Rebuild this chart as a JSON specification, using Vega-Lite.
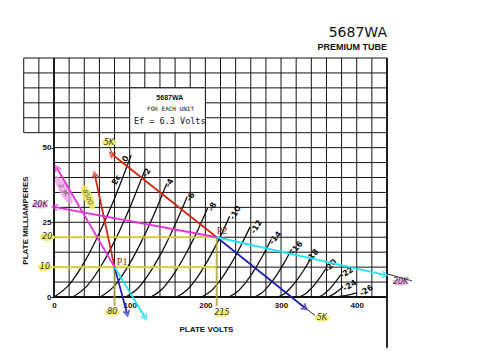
{
  "$schema": "https://vega.github.io/schema/vega-lite/v6.json",
  "width": 333,
  "height": 239,
  "autosize": {"type": "none"},
  "padding": {"left": 54, "top": 58, "right": 113, "bottom": 57},
  "background": "white",
  "config": {"view": {"stroke": null}, "font": "Liberation Sans"},
  "title": {
    "text": "5687WA",
    "subtitle": "PREMIUM TUBE",
    "anchor": "end",
    "frame": "group",
    "font": "DejaVu Sans",
    "fontSize": 14,
    "fontWeight": "normal",
    "color": "#111",
    "subtitleFont": "Liberation Sans Narrow, Liberation Sans",
    "subtitleFontSize": 9,
    "subtitleFontWeight": "bold",
    "subtitleColor": "#111",
    "subtitlePadding": 3,
    "offset": 5
  },
  "datasets": {
    "grid": [
      {"v": -40, "v2": -40, "i": 55, "i2": 80},
      {"v": -20, "v2": -20, "i": 55, "i2": 80},
      {"v": 0, "v2": 0, "i": 0, "i2": 80},
      {"v": 20, "v2": 20, "i": 0, "i2": 80},
      {"v": 40, "v2": 40, "i": 0, "i2": 80},
      {"v": 60, "v2": 60, "i": 0, "i2": 80},
      {"v": 80, "v2": 80, "i": 0, "i2": 80},
      {"v": 100, "v2": 100, "i": 0, "i2": 80},
      {"v": 120, "v2": 120, "i": 0, "i2": 80},
      {"v": 140, "v2": 140, "i": 0, "i2": 80},
      {"v": 160, "v2": 160, "i": 0, "i2": 80},
      {"v": 180, "v2": 180, "i": 0, "i2": 80},
      {"v": 200, "v2": 200, "i": 0, "i2": 80},
      {"v": 220, "v2": 220, "i": 0, "i2": 80},
      {"v": 240, "v2": 240, "i": 0, "i2": 80},
      {"v": 260, "v2": 260, "i": 0, "i2": 80},
      {"v": 280, "v2": 280, "i": 0, "i2": 80},
      {"v": 300, "v2": 300, "i": 0, "i2": 80},
      {"v": 320, "v2": 320, "i": 0, "i2": 80},
      {"v": 340, "v2": 340, "i": 0, "i2": 80},
      {"v": 360, "v2": 360, "i": 0, "i2": 80},
      {"v": 380, "v2": 380, "i": 0, "i2": 80},
      {"v": 400, "v2": 400, "i": 0, "i2": 80},
      {"v": 420, "v2": 420, "i": 0, "i2": 80},
      {"v": 440, "v2": 440, "i": 0, "i2": 80},
      {"v": 0, "v2": 440, "i": 0, "i2": 0},
      {"v": 0, "v2": 440, "i": 5, "i2": 5},
      {"v": 0, "v2": 440, "i": 10, "i2": 10},
      {"v": 0, "v2": 440, "i": 15, "i2": 15},
      {"v": 0, "v2": 440, "i": 20, "i2": 20},
      {"v": 0, "v2": 440, "i": 25, "i2": 25},
      {"v": 0, "v2": 440, "i": 30, "i2": 30},
      {"v": 0, "v2": 440, "i": 35, "i2": 35},
      {"v": 0, "v2": 440, "i": 40, "i2": 40},
      {"v": 0, "v2": 440, "i": 45, "i2": 45},
      {"v": 0, "v2": 440, "i": 50, "i2": 50},
      {"v": -40, "v2": 440, "i": 55, "i2": 55},
      {"v": -40, "v2": 440, "i": 60, "i2": 60},
      {"v": -40, "v2": 440, "i": 65, "i2": 65},
      {"v": -40, "v2": 440, "i": 70, "i2": 70},
      {"v": -40, "v2": 440, "i": 75, "i2": 75},
      {"v": -40, "v2": 440, "i": 80, "i2": 80}
    ],
    "frame": [
      {"v": 0, "v2": 0, "i": 0, "i2": 80},
      {"v": 0, "v2": 440, "i": 0, "i2": 0},
      {"v": 440, "v2": 440, "i": -17, "i2": 80}
    ],
    "box": [{"v": 100, "v2": 200, "i": 55, "i2": 70}],
    "curves": [
      {"ec": "0", "v": 0, "i": 0}, {"ec": "0", "v": 20.4, "i": 4.25}, {"ec": "0", "v": 40.8, "i": 12}, {"ec": "0", "v": 61.2, "i": 22.1}, {"ec": "0", "v": 81.6, "i": 34}, {"ec": "0", "v": 102, "i": 47.5},
      {"ec": "-2", "v": 25, "i": 0}, {"ec": "-2", "v": 44, "i": 3.79}, {"ec": "-2", "v": 63, "i": 10.7}, {"ec": "-2", "v": 82, "i": 19.7}, {"ec": "-2", "v": 101, "i": 30.4}, {"ec": "-2", "v": 120, "i": 42.4},
      {"ec": "-4", "v": 61, "i": 0}, {"ec": "-4", "v": 78.6, "i": 3.4}, {"ec": "-4", "v": 96.2, "i": 9.61}, {"ec": "-4", "v": 113.8, "i": 17.7}, {"ec": "-4", "v": 131.4, "i": 27.2}, {"ec": "-4", "v": 149, "i": 38},
      {"ec": "-6", "v": 95, "i": 0}, {"ec": "-6", "v": 111.2, "i": 3}, {"ec": "-6", "v": 127.4, "i": 8.5}, {"ec": "-6", "v": 143.6, "i": 15.6}, {"ec": "-6", "v": 159.8, "i": 24.1}, {"ec": "-6", "v": 176, "i": 33.6},
      {"ec": "-8", "v": 128, "i": 0}, {"ec": "-8", "v": 143, "i": 2.66}, {"ec": "-8", "v": 158, "i": 7.54}, {"ec": "-8", "v": 173, "i": 13.9}, {"ec": "-8", "v": 188, "i": 21.3}, {"ec": "-8", "v": 203, "i": 29.8},
      {"ec": "-10", "v": 162, "i": 0}, {"ec": "-10", "v": 176, "i": 2.41}, {"ec": "-10", "v": 190, "i": 6.83}, {"ec": "-10", "v": 204, "i": 12.6}, {"ec": "-10", "v": 218, "i": 19.3}, {"ec": "-10", "v": 232, "i": 27},
      {"ec": "-12", "v": 195, "i": 0}, {"ec": "-12", "v": 207.8, "i": 2.09}, {"ec": "-12", "v": 220.6, "i": 5.92}, {"ec": "-12", "v": 233.4, "i": 10.9}, {"ec": "-12", "v": 246.2, "i": 16.8}, {"ec": "-12", "v": 259, "i": 23.4},
      {"ec": "-14", "v": 231, "i": 0}, {"ec": "-14", "v": 242.2, "i": 1.73}, {"ec": "-14", "v": 253.4, "i": 4.88}, {"ec": "-14", "v": 264.6, "i": 8.97}, {"ec": "-14", "v": 275.8, "i": 13.8}, {"ec": "-14", "v": 287, "i": 19.3},
      {"ec": "-16", "v": 265, "i": 0}, {"ec": "-16", "v": 274.8, "i": 1.43}, {"ec": "-16", "v": 284.6, "i": 4.05}, {"ec": "-16", "v": 294.4, "i": 7.44}, {"ec": "-16", "v": 304.2, "i": 11.5}, {"ec": "-16", "v": 314, "i": 16},
      {"ec": "-18", "v": 296, "i": 0}, {"ec": "-18", "v": 304.8, "i": 1.18}, {"ec": "-18", "v": 313.6, "i": 3.34}, {"ec": "-18", "v": 322.4, "i": 6.14}, {"ec": "-18", "v": 331.2, "i": 9.45}, {"ec": "-18", "v": 340, "i": 13.2},
      {"ec": "-20", "v": 324, "i": 0}, {"ec": "-20", "v": 331.4, "i": 0.91}, {"ec": "-20", "v": 338.8, "i": 2.58}, {"ec": "-20", "v": 346.2, "i": 4.74}, {"ec": "-20", "v": 353.6, "i": 7.3}, {"ec": "-20", "v": 361, "i": 10.2},
      {"ec": "-22", "v": 349, "i": 0}, {"ec": "-22", "v": 355, "i": 0.67}, {"ec": "-22", "v": 361, "i": 1.9}, {"ec": "-22", "v": 367, "i": 3.49}, {"ec": "-22", "v": 373, "i": 5.37}, {"ec": "-22", "v": 379, "i": 7.5},
      {"ec": "-24", "v": 360, "i": 0}, {"ec": "-24", "v": 364.4, "i": 0.31}, {"ec": "-24", "v": 368.8, "i": 0.89}, {"ec": "-24", "v": 373.2, "i": 1.63}, {"ec": "-24", "v": 377.6, "i": 2.51}, {"ec": "-24", "v": 382, "i": 3.5},
      {"ec": "-26", "v": 370, "i": 0}, {"ec": "-26", "v": 376, "i": 0.13}, {"ec": "-26", "v": 382, "i": 0.35}, {"ec": "-26", "v": 388, "i": 0.65}, {"ec": "-26", "v": 394, "i": 1}, {"ec": "-26", "v": 400, "i": 1.4}
    ],
    "labelsSteep": [
      {"label": "0", "v": 95, "i": 46.2},
      {"label": "Ec", "v": 83, "i": 39.1},
      {"label": "-2", "v": 123, "i": 41.5},
      {"label": "-4", "v": 153, "i": 38.1},
      {"label": "-6", "v": 181, "i": 33.4},
      {"label": "-8", "v": 210, "i": 30.1},
      {"label": "-10", "v": 240, "i": 28.1},
      {"label": "-12", "v": 268, "i": 23.4}
    ],
    "labelsMid": [
      {"label": "-14", "v": 293, "i": 19.7},
      {"label": "-16", "v": 321, "i": 16.4},
      {"label": "-18", "v": 342, "i": 13.7},
      {"label": "-20", "v": 366, "i": 10.4}
    ],
    "labelsFlat": [
      {"label": "-22", "v": 387, "i": 8},
      {"label": "-24", "v": 391, "i": 3.7},
      {"label": "-26", "v": 413, "i": 2}
    ],
    "hGuides": [
      {"v": -3, "v2": 215, "i": 20, "i2": 20},
      {"v": -3, "v2": 215, "i": 10, "i2": 10}
    ],
    "vGuides": [
      {"v": 80, "v2": 80, "i": 10, "i2": -3},
      {"v": 215, "v2": 215, "i": 20, "i2": -3}
    ],
    "loads": [
      {"seg": "5K upper", "v": 76.6, "i": 47.8}, {"seg": "5K upper", "v": 215, "i": 20},
      {"seg": "5K lower", "v": 215, "i": 20}, {"seg": "5K lower", "v": 331, "i": -3.5},
      {"seg": "850 upper", "v": 54, "i": 40.8}, {"seg": "850 upper", "v": 80, "i": 10},
      {"seg": "850 lower", "v": 80, "i": 10}, {"seg": "850 lower", "v": 96.4, "i": -5.4},
      {"seg": "20K left", "v": 1.3, "i": 30.1}, {"seg": "20K left", "v": 215, "i": 20},
      {"seg": "20K right", "v": 215, "i": 20}, {"seg": "20K right", "v": 437, "i": 7.4},
      {"seg": "2.3K upper", "v": 4, "i": 43.1}, {"seg": "2.3K upper", "v": 80, "i": 10},
      {"seg": "2.3K lower", "v": 80, "i": 10}, {"seg": "2.3K lower", "v": 120, "i": -6.7}
    ],
    "arrows": [
      {"seg": "5K upper", "v": 76.6, "i": 47.8, "dir": 309},
      {"seg": "850 upper", "v": 54, "i": 40.8, "dir": 348},
      {"seg": "20K left", "v": 1.3, "i": 30.1, "dir": 281},
      {"seg": "2.3K upper", "v": 4, "i": 43.1, "dir": 329},
      {"seg": "5K lower", "v": 331, "i": -3.5, "dir": 128},
      {"seg": "850 lower", "v": 96.4, "i": -5.4, "dir": 166},
      {"seg": "20K right", "v": 437, "i": 7.4, "dir": 102},
      {"seg": "2.3K lower", "v": 120, "i": -6.7, "dir": 150}
    ],
    "leaders": [
      {"seg": "a", "v": 331, "i": -3.5}, {"seg": "a", "v": 345, "i": -6.2},
      {"seg": "b", "v": 441, "i": 7.7}, {"seg": "b", "v": 473, "i": 5.4},
      {"seg": "c", "v": 73, "i": 50.3}, {"seg": "c", "v": 76, "i": 48.6}
    ],
    "yellowNotes": [
      {"label": "5K", "v": 72.6, "i": 51.7},
      {"label": "20", "v": -9, "i": 20},
      {"label": "10", "v": -12, "i": 10},
      {"label": "80", "v": 77, "i": -5},
      {"label": "215", "v": 222, "i": -5.4},
      {"label": "5K", "v": 354, "i": -7}
    ],
    "pinkNotes": [
      {"label": "20K", "v": -18.5, "i": 30.8},
      {"label": "20K", "v": 458, "i": 5}
    ],
    "pointNotes": [
      {"label": "P1", "v": 90, "i": 11.7},
      {"label": "P2", "v": 222, "i": 22}
    ],
    "pinkBand": [{"label": "2.3K", "v": 13, "i": 35.8}],
    "yellowBand": [{"label": "850Ω", "v": 45, "i": 33.4}]
  },
  "encoding": {
    "x": {
      "field": "v", "type": "quantitative",
      "scale": {"domain": [0, 440], "nice": false, "zero": false},
      "axis": {
        "values": [0, 100, 200, 300, 400],
        "ticks": false, "domain": false, "grid": false,
        "labelPadding": 4, "labelFont": "Liberation Sans", "labelFontWeight": "bold", "labelFontSize": 8,
        "labelColor": "#111", "labelFlush": false, "labelOverlap": false, "labelBound": false,
        "title": "PLATE VOLTS", "titleFont": "Liberation Sans Narrow, Liberation Sans", "titleFontSize": 8,
        "titleFontWeight": "bold", "titleColor": "#111", "titleX": 152, "titleY": 32,
        "titleBaseline": "middle", "titleAlign": "center"
      }
    },
    "y": {
      "field": "i", "type": "quantitative",
      "scale": {"domain": [0, 80], "nice": false, "zero": false},
      "axis": {
        "values": [0, 25, 50],
        "ticks": true, "tickSize": 3, "tickColor": "#111", "domain": false, "grid": false,
        "labelPadding": 0, "labelFont": "Liberation Sans", "labelFontWeight": "bold", "labelFontSize": 8,
        "labelColor": "#111", "labelFlush": false, "labelOverlap": false, "labelBound": false,
        "title": "PLATE MILLIAMPERES", "titleFont": "Liberation Sans Narrow, Liberation Sans", "titleFontSize": 8,
        "titleFontWeight": "bold", "titleColor": "#111", "titleX": -29, "titleY": 162,
        "titleBaseline": "middle", "titleAlign": "center", "titleAngle": 270
      }
    }
  },
  "layer": [
    {
      "data": {"name": "grid"},
      "mark": {"type": "rule", "color": "#151515", "strokeWidth": 1, "clip": false},
      "encoding": {"x2": {"field": "v2"}, "y2": {"field": "i2"}}
    },
    {
      "data": {"name": "frame"},
      "mark": {"type": "rule", "color": "#111", "strokeWidth": 1.8, "clip": false},
      "encoding": {"x2": {"field": "v2"}, "y2": {"field": "i2"}}
    },
    {
      "data": {"name": "box"},
      "mark": {"type": "rect", "fill": "white", "stroke": "#151515", "strokeWidth": 1, "clip": false},
      "encoding": {"x2": {"field": "v2"}, "y2": {"field": "i2"}}
    },
    {
      "data": {"values": [{"t": "5687WA", "v": 153, "i": 66.7}]},
      "mark": {"type": "text", "font": "Liberation Sans Narrow, Liberation Sans", "fontWeight": "bold", "fontSize": 7, "color": "#111", "baseline": "middle"},
      "encoding": {"text": {"field": "t"}}
    },
    {
      "data": {"values": [{"t": "FOR EACH UNIT", "v": 154, "i": 62.9}]},
      "mark": {"type": "text", "font": "DejaVu Sans Mono", "fontSize": 6, "color": "#111", "baseline": "middle"},
      "encoding": {"text": {"field": "t"}}
    },
    {
      "data": {"values": [{"t": "Ef = 6.3 Volts", "v": 153, "i": 58.9}]},
      "mark": {"type": "text", "font": "DejaVu Sans Mono", "fontSize": 8.5, "color": "#111", "baseline": "middle"},
      "encoding": {"text": {"field": "t"}}
    },
    {
      "data": {"name": "curves"},
      "mark": {"type": "line", "color": "#111", "strokeWidth": 1.3, "interpolate": "monotone", "clip": false},
      "encoding": {"detail": {"field": "ec"}}
    },
    {
      "data": {"name": "labelsSteep"},
      "mark": {"type": "text", "angle": -60, "fontSize": 8, "fontWeight": "bold", "font": "DejaVu Sans", "color": "#111", "baseline": "middle"},
      "encoding": {"text": {"field": "label"}}
    },
    {
      "data": {"name": "labelsMid"},
      "mark": {"type": "text", "angle": -50, "fontSize": 8, "fontWeight": "bold", "font": "DejaVu Sans", "color": "#111", "baseline": "middle"},
      "encoding": {"text": {"field": "label"}}
    },
    {
      "data": {"name": "labelsFlat"},
      "mark": {"type": "text", "angle": -32, "fontSize": 8, "fontWeight": "bold", "font": "DejaVu Sans", "color": "#111", "baseline": "middle", "clip": false},
      "encoding": {"text": {"field": "label"}}
    },
    {
      "data": {"name": "hGuides"},
      "mark": {"type": "rule", "strokeWidth": 2.2, "opacity": 0.85, "color": "#e6e03a", "clip": false},
      "encoding": {"x2": {"field": "v2"}, "y2": {"field": "i2"}}
    },
    {
      "data": {"name": "vGuides"},
      "mark": {"type": "rule", "strokeWidth": 2, "opacity": 0.85, "color": "#aaa640", "clip": false},
      "encoding": {"x2": {"field": "v2"}, "y2": {"field": "i2"}}
    },
    {
      "data": {"name": "yellowNotes"},
      "mark": {"type": "point", "shape": "M-1,0 A1,0.5 0 1,1 1,0 A1,0.5 0 1,1 -1,0 Z", "filled": true, "size": 220, "color": "#f0ea5c", "opacity": 0.9, "clip": false}
    },
    {
      "data": {"name": "pinkNotes"},
      "mark": {"type": "point", "shape": "M-1,0 A1,0.45 0 1,1 1,0 A1,0.45 0 1,1 -1,0 Z", "filled": true, "size": 260, "color": "#ee9ae6", "opacity": 0.8, "clip": false}
    },
    {
      "data": {"name": "pinkBand"},
      "mark": {"type": "point", "shape": "M-1,0 A1,0.3 0 1,1 1,0 A1,0.3 0 1,1 -1,0 Z", "filled": true, "size": 1000, "angle": 60, "color": "#ee9ae6", "opacity": 0.75, "clip": false}
    },
    {
      "data": {"name": "yellowBand"},
      "mark": {"type": "point", "shape": "M-1,0 A1,0.35 0 1,1 1,0 A1,0.35 0 1,1 -1,0 Z", "filled": true, "size": 700, "angle": 65, "color": "#f0ea5c", "opacity": 0.9, "clip": false}
    },
    {
      "data": {"name": "leaders"},
      "mark": {"type": "line", "color": "#333", "strokeWidth": 1, "clip": false},
      "encoding": {"detail": {"field": "seg"}}
    },
    {
      "data": {"name": "loads"},
      "mark": {"type": "line", "strokeWidth": 1.8, "clip": false},
      "encoding": {
        "detail": {"field": "seg"},
        "color": {"field": "seg", "type": "nominal", "legend": null,
          "scale": {"domain": ["5K upper", "5K lower", "850 upper", "850 lower", "20K left", "20K right", "2.3K upper", "2.3K lower"],
            "range": ["#cc2a16", "#1f22a8", "#cc2a16", "#1f22a8", "#e632d6", "#22e4f2", "#e632d6", "#22e4f2"]}}
      }
    },
    {
      "data": {"name": "arrows"},
      "mark": {"type": "point", "shape": "M-0.7,0.6 L0,-0.6 L0.7,0.6", "filled": false, "size": 80, "strokeWidth": 1.8, "clip": false},
      "encoding": {
        "angle": {"field": "dir", "type": "quantitative", "scale": null},
        "color": {"field": "seg", "type": "nominal", "legend": null,
          "scale": {"domain": ["5K upper", "5K lower", "850 upper", "850 lower", "20K left", "20K right", "2.3K upper", "2.3K lower"],
            "range": ["#cc2a16", "#1f22a8", "#cc2a16", "#1f22a8", "#e632d6", "#22e4f2", "#e632d6", "#22e4f2"]}}
      }
    },
    {
      "data": {"name": "yellowNotes"},
      "mark": {"type": "text", "font": "DejaVu Sans", "fontStyle": "italic", "fontSize": 8, "color": "#333", "baseline": "middle", "clip": false},
      "encoding": {"text": {"field": "label"}}
    },
    {
      "data": {"name": "pinkNotes"},
      "mark": {"type": "text", "font": "DejaVu Sans", "fontStyle": "italic", "fontSize": 8, "color": "#333", "baseline": "middle", "clip": false},
      "encoding": {"text": {"field": "label"}}
    },
    {
      "data": {"name": "pinkBand"},
      "mark": {"type": "text", "font": "DejaVu Sans", "fontStyle": "italic", "fontSize": 6, "angle": 60, "color": "#555", "baseline": "middle", "clip": false},
      "encoding": {"text": {"field": "label"}}
    },
    {
      "data": {"name": "yellowBand"},
      "mark": {"type": "text", "font": "DejaVu Sans", "fontStyle": "italic", "fontSize": 6, "angle": 65, "color": "#555", "baseline": "middle", "clip": false},
      "encoding": {"text": {"field": "label"}}
    },
    {
      "data": {"name": "pointNotes"},
      "mark": {"type": "text", "font": "Liberation Serif", "fontSize": 10, "color": "#9a1c1c", "baseline": "middle", "clip": false},
      "encoding": {"text": {"field": "label"}}
    }
  ]
}
